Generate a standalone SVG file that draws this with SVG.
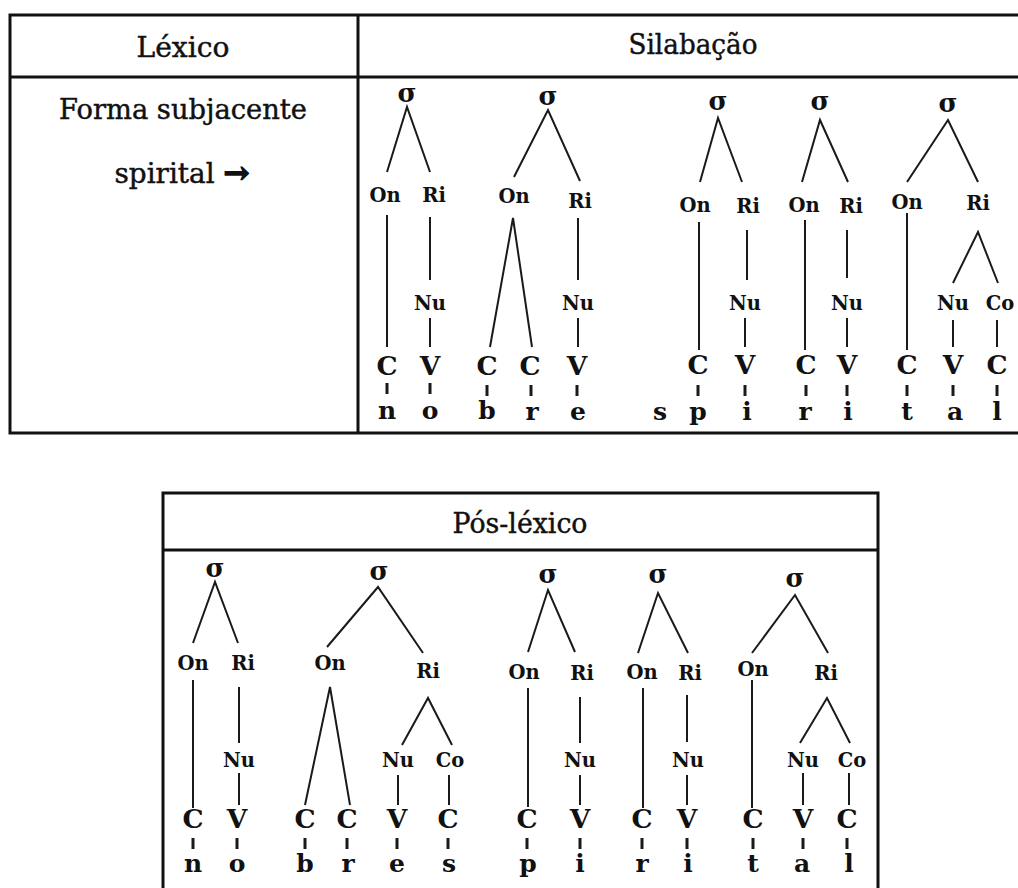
<svg xmlns="http://www.w3.org/2000/svg" width="1018" height="888" viewBox="0 0 1018 888">
<style>
text{font-family:"DejaVu Serif","Liberation Serif",serif;text-anchor:middle;fill:#111}
.hd{font-size:27px;stroke:#111;stroke-width:0.45}
.ar{font-weight:bold;font-size:30px;stroke-width:1.4}
.nd{font-size:19.5px;font-weight:bold}
.sg{font-size:26px;font-weight:bold}
.sk{font-size:26.5px;font-weight:bold}
.ph{font-size:25px;font-weight:bold}
.frame{stroke:#111;stroke-width:3;fill:none}
.ln{stroke:#1a1a1a;stroke-width:2;fill:none}
.tk{stroke:#1a1a1a;stroke-width:3;fill:none}
</style>
<rect width="1018" height="888" fill="#fff"/>
<g id="table-top">
<path class="frame" d="M1018,15H10V433H1018M10,77H1018M358,15V433"/>
</g>
<g id="table-bottom">
<path class="frame" d="M163,888V493H878V888M163,550H878"/>
</g>
<g id="h-lexico"><text class="hd" x="183" y="57" textLength="93" lengthAdjust="spacingAndGlyphs">Léxico</text></g>
<g id="h-silabacao"><text class="hd" x="693" y="54" textLength="129" lengthAdjust="spacingAndGlyphs">Silabação</text></g>
<g id="t-forma"><text class="hd" x="183" y="119" textLength="248" lengthAdjust="spacingAndGlyphs">Forma subjacente</text></g>
<g id="t-spirital"><text class="hd" x="182" y="183" textLength="135" lengthAdjust="spacingAndGlyphs">spirital <tspan class="ar">→</tspan></text></g>
<g id="h-poslexico"><text class="hd" x="520" y="533" textLength="135" lengthAdjust="spacingAndGlyphs">Pós-léxico</text></g>

<g id="connectors">
<!-- top tree 1 -->
<path class="ln" d="M387,172L407,107L430,172M387,215V347M430,217V280M430,318V347"/>
<path class="tk" d="M387,383V394M430,383V394"/>
<!-- top tree 2 -->
<path class="ln" d="M514,177L548,110L580,181M490,347L513,218L532,347M578,218V280M578,318V347"/>
<path class="tk" d="M487,385V396M531,385V396M577,385V396"/>
<!-- top tree 3 -->
<path class="ln" d="M700,182L718,118L742,182M699,222V350M747,230V280M745,318V347"/>
<path class="tk" d="M698,385V396M745,385V396"/>
<!-- top tree 4 -->
<path class="ln" d="M802,182L820,120L848,182M805,220V350M847,230V278M847,318V347"/>
<path class="tk" d="M806,385V396M847,385V396"/>
<!-- top tree 5 -->
<path class="ln" d="M907,182L948,120L978,182M907,213V350M953,283L978,232L998,283M953,320V347M997,320V347"/>
<path class="tk" d="M907,385V396M953,385V396M997,385V396"/>
<!-- bottom tree 1 -->
<path class="ln" d="M193,643L215,582L238,643M193,680V808M239,687V743M239,773V805"/>
<path class="tk" d="M193,838V849M237,838V849"/>
<!-- bottom tree 2 -->
<path class="ln" d="M327,647L378,587L423,653M305,805L330,687L350,805M402,745L428,698L452,745M398,775V805M449,775V805"/>
<path class="tk" d="M305,838V849M347,838V849M397,838V849M448,838V849"/>
<!-- bottom tree 3 -->
<path class="ln" d="M528,652L548,590L575,652M528,688V807M580,697V743M580,775V805"/>
<path class="tk" d="M527,838V849M580,838V849"/>
<!-- bottom tree 4 -->
<path class="ln" d="M638,653L658,593L688,653M643,688V808M687,695V742M687,775V805"/>
<path class="tk" d="M642,838V849M687,838V849"/>
<!-- bottom tree 5 -->
<path class="ln" d="M752,653L795,595L828,653M752,680V808M800,743L827,698L850,743M803,773V805M849,773V805"/>
<path class="tk" d="M753,838V849M803,838V849M847,838V849"/>
</g>

<!-- top tree 1 nodes -->
<g id="t1-sigma"><text class="sg" x="407" y="102" textLength="19" lengthAdjust="spacingAndGlyphs">σ</text></g>
<g id="t1-on"><text class="nd" x="385" y="202">On</text></g>
<g id="t1-ri"><text class="nd" x="434" y="202">Ri</text></g>
<g id="t1-nu"><text class="nd" x="430" y="310">Nu</text></g>
<g id="t1-c"><text class="sk" x="387" y="375">C</text></g>
<g id="t1-v"><text class="sk" x="430" y="375">V</text></g>
<g id="t1-n"><text class="ph" x="387" y="419">n</text></g>
<g id="t1-o"><text class="ph" x="430" y="419">o</text></g>
<!-- top tree 2 -->
<g id="t2-sigma"><text class="sg" x="548" y="105" textLength="19" lengthAdjust="spacingAndGlyphs">σ</text></g>
<g id="t2-on"><text class="nd" x="514" y="203">On</text></g>
<g id="t2-ri"><text class="nd" x="580" y="208">Ri</text></g>
<g id="t2-nu"><text class="nd" x="578" y="310">Nu</text></g>
<g id="t2-c1"><text class="sk" x="487" y="375">C</text></g>
<g id="t2-c2"><text class="sk" x="530" y="375">C</text></g>
<g id="t2-v"><text class="sk" x="577" y="375">V</text></g>
<g id="t2-b"><text class="ph" x="487" y="419">b</text></g>
<g id="t2-r"><text class="ph" x="532" y="420">r</text></g>
<g id="t2-e"><text class="ph" x="578" y="420">e</text></g>
<!-- top tree 3 -->
<g id="t3-sigma"><text class="sg" x="718" y="110" textLength="19" lengthAdjust="spacingAndGlyphs">σ</text></g>
<g id="t3-on"><text class="nd" x="695" y="212">On</text></g>
<g id="t3-ri"><text class="nd" x="748" y="213">Ri</text></g>
<g id="t3-nu"><text class="nd" x="745" y="310">Nu</text></g>
<g id="t3-c"><text class="sk" x="698" y="374">C</text></g>
<g id="t3-v"><text class="sk" x="745" y="374">V</text></g>
<g id="t3-s"><text class="ph" x="660" y="420">s</text></g>
<g id="t3-p"><text class="ph" x="698" y="420">p</text></g>
<g id="t3-i"><text class="ph" x="747" y="420">i</text></g>
<!-- top tree 4 -->
<g id="t4-sigma"><text class="sg" x="820" y="110" textLength="19" lengthAdjust="spacingAndGlyphs">σ</text></g>
<g id="t4-on"><text class="nd" x="804" y="212">On</text></g>
<g id="t4-ri"><text class="nd" x="851" y="213">Ri</text></g>
<g id="t4-nu"><text class="nd" x="847" y="310">Nu</text></g>
<g id="t4-c"><text class="sk" x="806" y="374">C</text></g>
<g id="t4-v"><text class="sk" x="847" y="374">V</text></g>
<g id="t4-r"><text class="ph" x="805" y="420">r</text></g>
<g id="t4-i"><text class="ph" x="848" y="420">i</text></g>
<!-- top tree 5 -->
<g id="t5-sigma"><text class="sg" x="948" y="112" textLength="19" lengthAdjust="spacingAndGlyphs">σ</text></g>
<g id="t5-on"><text class="nd" x="907" y="209">On</text></g>
<g id="t5-ri"><text class="nd" x="978" y="210">Ri</text></g>
<g id="t5-nu"><text class="nd" x="953" y="310">Nu</text></g>
<g id="t5-co"><text class="nd" x="1000" y="310">Co</text></g>
<g id="t5-c1"><text class="sk" x="907" y="374">C</text></g>
<g id="t5-v"><text class="sk" x="953" y="374">V</text></g>
<g id="t5-c2"><text class="sk" x="997" y="374">C</text></g>
<g id="t5-t"><text class="ph" x="907" y="420">t</text></g>
<g id="t5-a"><text class="ph" x="955" y="420">a</text></g>
<g id="t5-l"><text class="ph" x="997" y="420">l</text></g>

<!-- bottom tree 1 -->
<g id="b1-sigma"><text class="sg" x="215" y="577" textLength="19" lengthAdjust="spacingAndGlyphs">σ</text></g>
<g id="b1-on"><text class="nd" x="193" y="670">On</text></g>
<g id="b1-ri"><text class="nd" x="243" y="670">Ri</text></g>
<g id="b1-nu"><text class="nd" x="239" y="767">Nu</text></g>
<g id="b1-c"><text class="sk" x="193" y="828">C</text></g>
<g id="b1-v"><text class="sk" x="237" y="828">V</text></g>
<g id="b1-n"><text class="ph" x="193" y="872">n</text></g>
<g id="b1-o"><text class="ph" x="237" y="872">o</text></g>
<!-- bottom tree 2 -->
<g id="b2-sigma"><text class="sg" x="379" y="580" textLength="19" lengthAdjust="spacingAndGlyphs">σ</text></g>
<g id="b2-on"><text class="nd" x="330" y="670">On</text></g>
<g id="b2-ri"><text class="nd" x="428" y="678">Ri</text></g>
<g id="b2-nu"><text class="nd" x="398" y="767">Nu</text></g>
<g id="b2-co"><text class="nd" x="450" y="767">Co</text></g>
<g id="b2-c1"><text class="sk" x="305" y="828">C</text></g>
<g id="b2-c2"><text class="sk" x="347" y="828">C</text></g>
<g id="b2-v"><text class="sk" x="397" y="828">V</text></g>
<g id="b2-c3"><text class="sk" x="448" y="828">C</text></g>
<g id="b2-b"><text class="ph" x="305" y="872">b</text></g>
<g id="b2-r"><text class="ph" x="348" y="872">r</text></g>
<g id="b2-e"><text class="ph" x="397" y="872">e</text></g>
<g id="b2-s"><text class="ph" x="449" y="872">s</text></g>
<!-- bottom tree 3 -->
<g id="b3-sigma"><text class="sg" x="548" y="583" textLength="19" lengthAdjust="spacingAndGlyphs">σ</text></g>
<g id="b3-on"><text class="nd" x="524" y="679">On</text></g>
<g id="b3-ri"><text class="nd" x="582" y="680">Ri</text></g>
<g id="b3-nu"><text class="nd" x="580" y="767">Nu</text></g>
<g id="b3-c"><text class="sk" x="527" y="828">C</text></g>
<g id="b3-v"><text class="sk" x="580" y="828">V</text></g>
<g id="b3-p"><text class="ph" x="528" y="872">p</text></g>
<g id="b3-i"><text class="ph" x="580" y="872">i</text></g>
<!-- bottom tree 4 -->
<g id="b4-sigma"><text class="sg" x="658" y="583" textLength="19" lengthAdjust="spacingAndGlyphs">σ</text></g>
<g id="b4-on"><text class="nd" x="642" y="679">On</text></g>
<g id="b4-ri"><text class="nd" x="690" y="680">Ri</text></g>
<g id="b4-nu"><text class="nd" x="688" y="767">Nu</text></g>
<g id="b4-c"><text class="sk" x="642" y="828">C</text></g>
<g id="b4-v"><text class="sk" x="687" y="828">V</text></g>
<g id="b4-r"><text class="ph" x="642" y="872">r</text></g>
<g id="b4-i"><text class="ph" x="688" y="872">i</text></g>
<!-- bottom tree 5 -->
<g id="b5-sigma"><text class="sg" x="795" y="587" textLength="19" lengthAdjust="spacingAndGlyphs">σ</text></g>
<g id="b5-on"><text class="nd" x="753" y="676">On</text></g>
<g id="b5-ri"><text class="nd" x="826" y="680">Ri</text></g>
<g id="b5-nu"><text class="nd" x="803" y="767">Nu</text></g>
<g id="b5-co"><text class="nd" x="852" y="767">Co</text></g>
<g id="b5-c1"><text class="sk" x="753" y="828">C</text></g>
<g id="b5-v"><text class="sk" x="803" y="828">V</text></g>
<g id="b5-c2"><text class="sk" x="847" y="828">C</text></g>
<g id="b5-t"><text class="ph" x="753" y="872">t</text></g>
<g id="b5-a"><text class="ph" x="802" y="872">a</text></g>
<g id="b5-l"><text class="ph" x="849" y="872">l</text></g>
</svg>
